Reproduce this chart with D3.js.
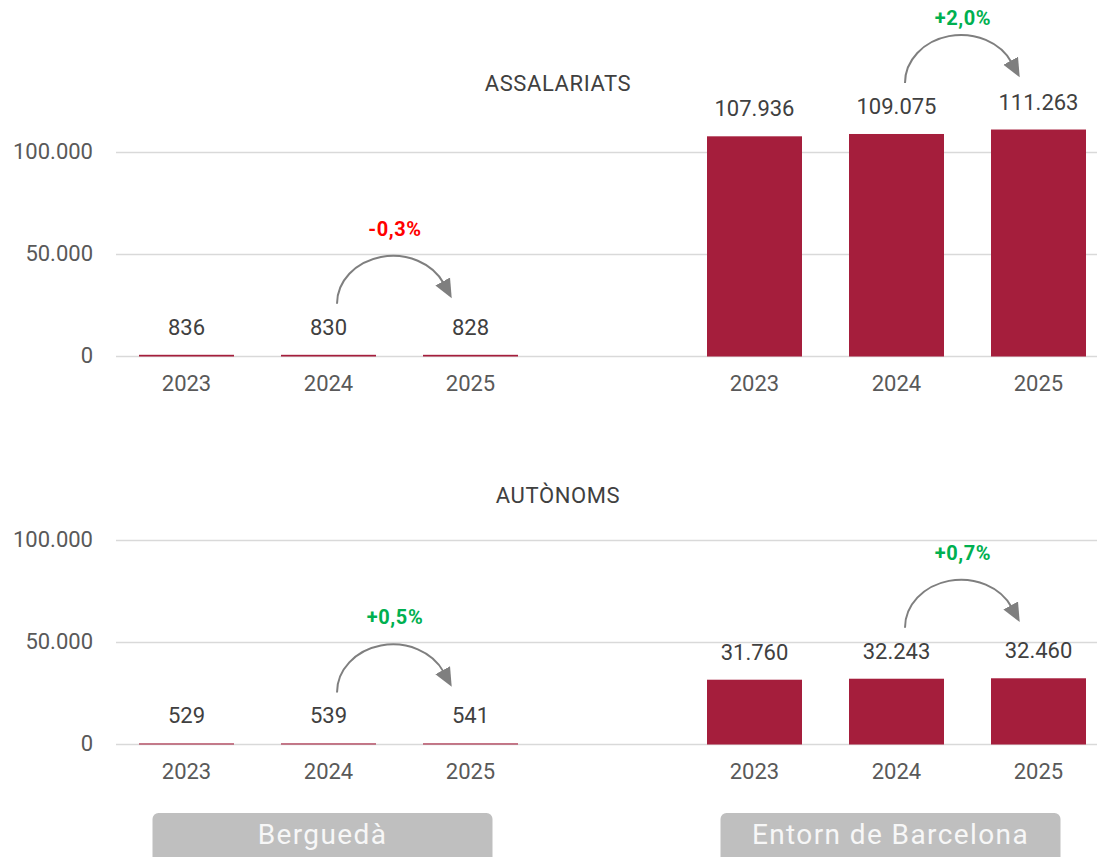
<!DOCTYPE html>
<html>
<head>
<meta charset="utf-8">
<script src="https://cdn.jsdelivr.net/npm/d3@7"></script>
<style>
  html, body { margin: 0; padding: 0; background: #fff; }
  svg { display: block; font-family: "Roboto", "Noto Sans", sans-serif; }
</style>
</head>
<body>
<svg id="chart" width="1097" height="857"></svg>
<script>
// ---- data ----
const regions = ["Berguedà", "Entorn de Barcelona"];
const years = ["2023", "2024", "2025"];
const panelTitles = ["ASSALARIATS", "AUTÒNOMS"];
const assalariatsBergueda = [836, 830, 828];
const assalariatsEntorn = [107936, 109075, 111263];
const autonomsBergueda = [529, 539, 541];
const autonomsEntorn = [31760, 32243, 32460];
const yTicks = [0, 50000, 100000];
const changeAssalariats = ["-0,3%", "+2,0%"];
const changeAutonoms = ["+0,5%", "+0,7%"];

// ---- layout ----
const W = 1097, H = 857;
const barColor = "#a51e3c";
const gridColor = "#d9d9d9";
const up = "#00b050", down = "#ff0000";
const panels = [
  { title: panelTitles[0], zero: 356.5, titleY: 91, series: [assalariatsBergueda, assalariatsEntorn], change: changeAssalariats },
  { title: panelTitles[1], zero: 744.5, titleY: 503, series: [autonomsBergueda, autonomsEntorn], change: changeAutonoms }
];

const cat = d3.formatLocale({ decimal: ",", thousands: ".", grouping: [3], currency: ["", " €"] });
const fmt = cat.format(",d");

// one band per year of each region, with an empty slot between the two regions
const slots = [];
regions.forEach((r, ri) => {
  years.forEach(y => slots.push(r + "|" + y));
  if (ri < regions.length - 1) slots.push("gap");
});
const x = d3.scaleBand().domain(slots).range([116, 1109]).paddingInner(0.331).paddingOuter(0.162);
const bw = x.bandwidth();
const cx = (r, y) => x(r + "|" + y) + bw / 2;

const svg = d3.select("#chart");

// arrowhead marker
svg.append("defs").append("marker")
  .attr("id", "head")
  .attr("markerUnits", "userSpaceOnUse")
  .attr("markerWidth", 20).attr("markerHeight", 20)
  .attr("viewBox", "0 -8 18 16")
  .attr("refX", 2).attr("refY", 0)
  .attr("orient", "auto")
  .append("path")
  .attr("d", "M0,-7.5L17,0L0,7.5Z")
  .attr("fill", "#7f7f7f");

panels.forEach(p => {
  const y = d3.scaleLinear().domain([0, 100000]).range([p.zero, p.zero - 204]);
  const g = svg.append("g");

  // gridlines
  g.selectAll("line.grid").data(yTicks).join("line")
    .attr("x1", 116).attr("x2", W)
    .attr("y1", d => y(d)).attr("y2", d => y(d))
    .attr("stroke", gridColor).attr("stroke-width", 1.6);

  // y tick labels
  g.selectAll("text.tick").data(yTicks).join("text")
    .attr("x", 93).attr("y", d => y(d)).attr("dy", "0.3em")
    .attr("text-anchor", "end")
    .attr("font-size", 22).attr("fill", "#595959")
    .text(d => fmt(d));

  // panel title
  g.append("text")
    .attr("x", 558).attr("y", p.titleY)
    .attr("text-anchor", "middle")
    .attr("font-size", 22).attr("letter-spacing", 0.6).attr("fill", "#404040")
    .text(p.title);

  regions.forEach((r, ri) => {
    const vals = p.series[ri];
    const rows = years.map((yr, i) => ({ yr, v: vals[i] }));

    g.selectAll(null).data(rows).join("rect")
      .attr("x", d => x(r + "|" + d.yr))
      .attr("width", bw)
      .attr("y", d => y(d.v))
      .attr("height", d => y(0) - y(d.v))
      .attr("fill", barColor);

    // value labels
    g.selectAll(null).data(rows).join("text")
      .attr("x", d => cx(r, d.yr))
      .attr("y", d => y(d.v) - 20)
      .attr("text-anchor", "middle")
      .attr("font-size", 22).attr("fill", "#404040")
      .text(d => fmt(d.v));

    // year labels
    g.selectAll(null).data(rows).join("text")
      .attr("x", d => cx(r, d.yr))
      .attr("y", y(0) + 34)
      .attr("text-anchor", "middle")
      .attr("font-size", 22).attr("fill", "#595959")
      .text(d => d.yr);

    // curved arrow from the 2024 bar to the 2025 bar with the change label
    const sx = cx(r, years[1]) + 8.5;
    const sy = y(vals[1]) - 51;
    const rx = 56, ry = 48;
    const ccx = sx + rx;
    const th = 25 * Math.PI / 180;
    const ex = ccx + rx * Math.cos(th), ey = sy - ry * Math.sin(th);
    g.append("path")
      .attr("d", `M${sx},${sy} A${rx},${ry} 0 0 1 ${ex},${ey}`)
      .attr("fill", "none")
      .attr("stroke", "#7f7f7f").attr("stroke-width", 2)
      .attr("marker-end", "url(#head)");

    const lbl = p.change[ri];
    g.append("text")
      .attr("x", ccx + 2)
      .attr("y", Math.max(sy - ry - 20, 25))
      .attr("text-anchor", "middle")
      .attr("font-size", 20).attr("font-weight", 700)
      .attr("letter-spacing", 0.6)
      .attr("fill", lbl.startsWith("-") ? down : up)
      .text(lbl);
  });
});

// region name tabs under the lower panel
regions.forEach(r => {
  const mid = (cx(r, years[0]) + cx(r, years[2])) / 2 - 6;
  const g = svg.append("g");
  g.append("rect")
    .attr("x", mid - 170).attr("y", 813)
    .attr("width", 340).attr("height", 52)
    .attr("rx", 6)
    .attr("fill", "#bfbfbf");
  g.append("text")
    .attr("x", mid).attr("y", 844)
    .attr("text-anchor", "middle")
    .attr("font-size", 28).attr("letter-spacing", 1.4)
    .attr("fill", "#f7f7f7")
    .text(r);
});
</script>
</body>
</html>
